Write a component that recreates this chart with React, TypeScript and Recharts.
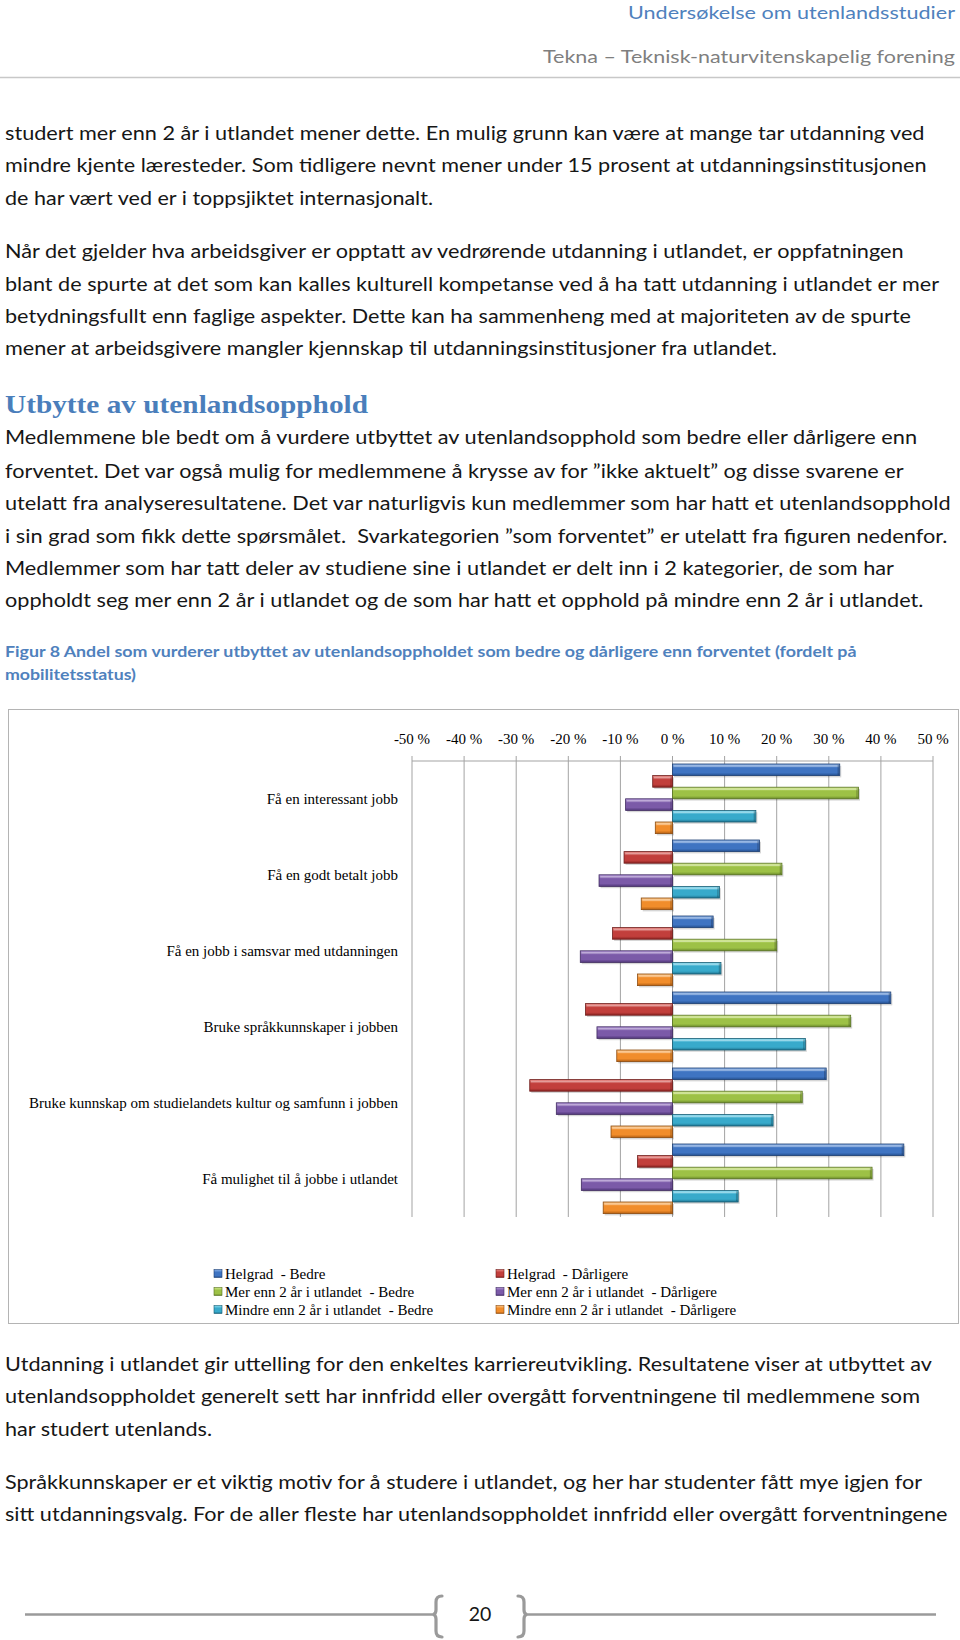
import React from 'react';
import { BarChart, Bar, XAxis, YAxis, CartesianGrid } from 'recharts';

// ---------- DATA ----------
const categories = [
  'Få en interessant jobb',
  'Få en godt betalt jobb',
  'Få en jobb i samsvar med utdanningen',
  'Bruke språkkunnskaper i jobben',
  'Bruke kunnskap om studielandets kultur og samfunn i jobben',
  'Få mulighet til å jobbe i utlandet',
];
const helgradBedre = [32.1, 16.7, 7.8, 41.9, 29.5, 44.4];
const helgradDarligere = [-3.8, -9.3, -11.5, -16.7, -27.4, -6.7];
const merBedre = [35.7, 21.0, 20.0, 34.2, 24.9, 38.3];
const merDarligere = [-9.0, -14.1, -17.7, -14.5, -22.3, -17.5];
const mindreBedre = [16.0, 9.0, 9.3, 25.5, 19.3, 12.6];
const mindreDarligere = [-3.3, -6.0, -6.7, -10.7, -11.8, -13.3];
const xTicks = [-50, -40, -30, -20, -10, 0, 10, 20, 30, 40, 50];
const seriesNames = [
  'Helgrad  - Bedre',
  'Helgrad  - Dårligere',
  'Mer enn 2 år i utlandet  - Bedre',
  'Mer enn 2 år i utlandet  - Dårligere',
  'Mindre enn 2 år i utlandet  - Bedre',
  'Mindre enn 2 år i utlandet  - Dårligere',
];
const seriesKeys = ['hb', 'hd', 'mb', 'md', 'nb', 'nd'];

const data = categories.map((name, i) => ({
  name,
  hb: helgradBedre[i],
  hd: helgradDarligere[i],
  mb: merBedre[i],
  md: merDarligere[i],
  nb: mindreBedre[i],
  nd: mindreDarligere[i],
}));

// ---------- STYLE ----------
const palette: Record<string, { light: string; base: string; dark: string; stroke: string }> = {
  hb: { light: '#8DB3E8', base: '#3F74C2', dark: '#24508F', stroke: '#1D3F73' },
  hd: { light: '#E88A86', base: '#C23F3C', dark: '#8C2422', stroke: '#6E1C1A' },
  mb: { light: '#D2EA8C', base: '#9DC146', dark: '#6B8B2A', stroke: '#55701F' },
  md: { light: '#B396D8', base: '#7B5AA8', dark: '#51377A', stroke: '#3F2A60' },
  nb: { light: '#8ADCF0', base: '#38AACB', dark: '#1F7592', stroke: '#175C73' },
  nd: { light: '#FDC98A', base: '#F18D2B', dark: '#B45F12', stroke: '#8C4A0E' },
};

const bodyFont = "Lato, 'Open Sans', sans-serif";
const serifFont = "'Liberation Serif', 'Times New Roman', serif";
const textColor = '#161616';

type Ln = { t: string; c: number; end: number };
const paraLines: Ln[] = [
  { t: 'studert mer enn 2 år i utlandet mener dette. En mulig grunn kan være at mange tar utdanning ved', c: 134, end: 924.5 },
  { t: 'mindre kjente læresteder. Som tidligere nevnt mener under 15 prosent at utdanningsinstitusjonen', c: 166.3, end: 926.6 },
  { t: 'de har vært ved er i toppsjiktet internasjonalt.', c: 198.7, end: 433 },
  { t: 'Når det gjelder hva arbeidsgiver er opptatt av vedrørende utdanning i utlandet, er oppfatningen', c: 252, end: 903.6 },
  { t: 'blant de spurte at det som kan kalles kulturell kompetanse ved å ha tatt utdanning i utlandet er mer', c: 284.5, end: 939 },
  { t: 'betydningsfullt enn faglige aspekter. Dette kan ha sammenheng med at majoriteten av de spurte', c: 317, end: 911 },
  { t: 'mener at arbeidsgivere mangler kjennskap til utdanningsinstitusjoner fra utlandet.', c: 349.3, end: 777 },
  { t: 'Medlemmene ble bedt om å vurdere utbyttet av utenlandsopphold som bedre eller dårligere enn', c: 438.2, end: 917 },
  { t: 'forventet. Det var også mulig for medlemmene å krysse av for ”ikke aktuelt” og disse svarene er', c: 471.7, end: 903.6 },
  { t: 'utelatt fra analyseresultatene. Det var naturligvis kun medlemmer som har hatt et utenlandsopphold', c: 504.1, end: 950.6 },
  { t: 'i sin grad som fikk dette spørsmålet.  Svarkategorien ”som forventet” er utelatt fra figuren nedenfor.', c: 536.5, end: 947.5 },
  { t: 'Medlemmer som har tatt deler av studiene sine i utlandet er delt inn i 2 kategorier, de som har', c: 568.9, end: 894 },
  { t: 'oppholdt seg mer enn 2 år i utlandet og de som har hatt et opphold på mindre enn 2 år i utlandet.', c: 601.3, end: 923.4 },
  { t: 'Utdanning i utlandet gir uttelling for den enkeltes karriereutvikling. Resultatene viser at utbyttet av', c: 1364.8, end: 932 },
  { t: 'utenlandsoppholdet generelt sett har innfridd eller overgått forventningene til medlemmene som', c: 1397.2, end: 920 },
  { t: 'har studert utenlands.', c: 1429.6, end: 212 },
  { t: 'Språkkunnskaper er et viktig motiv for å studere i utlandet, og her har studenter fått mye igjen for', c: 1482.9, end: 922 },
  { t: 'sitt utdanningsvalg. For de aller fleste har utenlandsoppholdet innfridd eller overgått forventningene', c: 1515.4, end: 947.5 },
];

const makeShape = (key: string) => (props: any) => {
  let { x, y, width, height } = props;
  if (width == null || height == null) return null;
  if (width < 0) { x += width; width = -width; }
  if (height < 0) { y += height; height = -height; }
  if (width < 0.5) return null;
  const p = palette[key];
  return (
    <g>
      <rect x={x + 1.5} y={y + 1.8} width={width} height={height} fill="rgba(0,0,0,0.16)" />
      <rect x={x} y={y} width={width} height={height} fill={`url(#grad-${key})`} stroke={p.stroke} strokeWidth={0.8} />
      <rect x={x + 1.2} y={y + 1.2} width={Math.max(0, width - 2.4)} height={1.6} fill="rgba(255,255,255,0.35)" />
      <rect x={x + width - 2.2} y={y + 0.8} width={1.4} height={Math.max(0, height - 1.6)} fill="rgba(0,0,0,0.22)" />
    </g>
  );
};

const CatTick = (props: any) => {
  const { x, y, payload } = props;
  return (
    <text x={x} y={y} dy={5} textAnchor="end" fontFamily={serifFont} fontSize={15} fill="#000" style={{ whiteSpace: 'pre' }}>
      {payload.value}
    </text>
  );
};

const Gradients = () => (
  <svg width={0} height={0} style={{ position: 'absolute' }}>
    <defs>
      {seriesKeys.map((k) => (
        <linearGradient key={k} id={`grad-${k}`} x1="0" y1="0" x2="0" y2="1">
          <stop offset="0%" stopColor={palette[k].light} />
          <stop offset="35%" stopColor={palette[k].base} />
          <stop offset="75%" stopColor={palette[k].base} />
          <stop offset="100%" stopColor={palette[k].dark} />
        </linearGradient>
      ))}
    </defs>
  </svg>
);

const Bracket = ({ x, dir }: { x: number; dir: number }) => {
  // dir = 1 for left "{", -1 for right "}"
  const h = 6 * dir;
  const d = `M ${x + h} 1596 Q ${x} 1596 ${x} 1602 L ${x} 1610 Q ${x} 1614 ${x - 3 * dir} 1614.5 Q ${x} 1615 ${x} 1619 L ${x} 1631 Q ${x} 1637 ${x + h} 1637`;
  return <path d={d} fill="none" stroke="#9a9a9a" strokeWidth={3.2} strokeLinecap="round" />;
};

export default function App() {
  const legendRows = [0, 1, 2];
  return (
    <div style={{ position: 'absolute', left: 0, top: 0, width: 960, height: 1640, overflow: 'hidden', background: '#fff' }}>
      <Gradients />
      {/* chart frame */}
      <div style={{ position: 'absolute', left: 8, top: 709, width: 951, height: 615, border: '1px solid #b4b4b4', boxSizing: 'border-box' }} />
      <div style={{ position: 'absolute', left: 8, top: 709 }}>
        <BarChart
          layout="vertical"
          width={950}
          height={614}
          data={data}
          margin={{ top: 22, right: 25, bottom: 106, left: 0 }}
          barSize={11.6}
          barGap={0}
        >
          <CartesianGrid horizontal={false} stroke="#a3a3a3" />
          <XAxis
            type="number"
            orientation="top"
            domain={[-50, 50]}
            ticks={xTicks}
            allowDataOverflow
            height={30}
            tickFormatter={(v: number) => `${v} %`}
            tick={{ fontFamily: serifFont, fontSize: 15, fill: '#000' }}
            tickSize={5}
            tickMargin={12}
            stroke="#a3a3a3"
          />
          <YAxis
            type="category"
            dataKey="name"
            width={404}
            tick={<CatTick />}
            tickLine={false}
            axisLine={false}
            tickSize={0}
            tickMargin={14}
            interval={0}
          />
          {seriesKeys.map((k, i) => (
            <Bar key={k} dataKey={k} name={seriesNames[i]} isAnimationActive={false} shape={makeShape(k)} />
          ))}
        </BarChart>
      </div>

      {/* text overlay */}
      <svg width={960} height={1640} style={{ position: 'absolute', left: 0, top: 0, pointerEvents: 'none' }}>
        {/* header */}
        <text x={955} y={19} textAnchor="end" fontFamily={bodyFont} fontSize={17} fill="#4F81BD" textLength={327} lengthAdjust="spacingAndGlyphs">
          Undersøkelse om utenlandsstudier
        </text>
        <text x={955} y={63} textAnchor="end" fontFamily={bodyFont} fontSize={17} fill="#7f7f7f" textLength={412} lengthAdjust="spacingAndGlyphs">
          Tekna – Teknisk-naturvitenskapelig forening
        </text>
        <line x1={0} y1={77.5} x2={960} y2={77.5} stroke="#c8c8c8" strokeWidth={1.5} />

        {paraLines.map((l, i) => (
          <text key={i} x={5} y={l.c + 6} fontFamily={bodyFont} fontSize={19.5} fill={textColor} textLength={l.end - 5} lengthAdjust="spacingAndGlyphs" style={{ whiteSpace: 'pre' }}>
            {l.t}
          </text>
        ))}

        {/* heading */}
        <text x={5} y={413} fontFamily={"'Liberation Serif', serif"} fontWeight={700} fontSize={25} fill="#4A7EBB" textLength={363} lengthAdjust="spacingAndGlyphs">
          Utbytte av utenlandsopphold
        </text>

        {/* caption */}
        <text x={5} y={657} fontFamily={bodyFont} fontWeight={700} fontSize={15.5} fill="#4F81BD" textLength={851.5} lengthAdjust="spacingAndGlyphs">
          Figur 8 Andel som vurderer utbyttet av utenlandsoppholdet som bedre og dårligere enn forventet (fordelt på
        </text>
        <text x={5} y={680} fontFamily={bodyFont} fontWeight={700} fontSize={15.5} fill="#4F81BD" textLength={131} lengthAdjust="spacingAndGlyphs">
          mobilitetsstatus)
        </text>

        {/* legend */}
        {legendRows.map((r) =>
          [0, 1].map((c) => {
            const idx = r * 2 + c;
            const k = seriesKeys[idx];
            const sx = c === 0 ? 214 : 496;
            const cy = 1274 + r * 18;
            return (
              <g key={k}>
                <rect x={sx} y={cy - 4.5} width={8} height={8} fill={`url(#grad-${k})`} stroke={palette[k].stroke} strokeWidth={0.6} />
                <text x={sx + 11} y={cy + 5} fontFamily={serifFont} fontSize={15} fill="#000" style={{ whiteSpace: 'pre' }}>
                  {seriesNames[idx]}
                </text>
              </g>
            );
          })
        )}

        {/* footer */}
        <line x1={25} y1={1614.5} x2={433} y2={1614.5} stroke="#9a9a9a" strokeWidth={2.5} />
        <line x1={527} y1={1614.5} x2={936} y2={1614.5} stroke="#9a9a9a" strokeWidth={2.5} />
        <Bracket x={436} dir={1} />
        <Bracket x={524} dir={-1} />
        <text x={480} y={1621} textAnchor="middle" fontFamily={bodyFont} fontSize={19.5} fill={textColor}>
          20
        </text>
      </svg>
    </div>
  );
}
